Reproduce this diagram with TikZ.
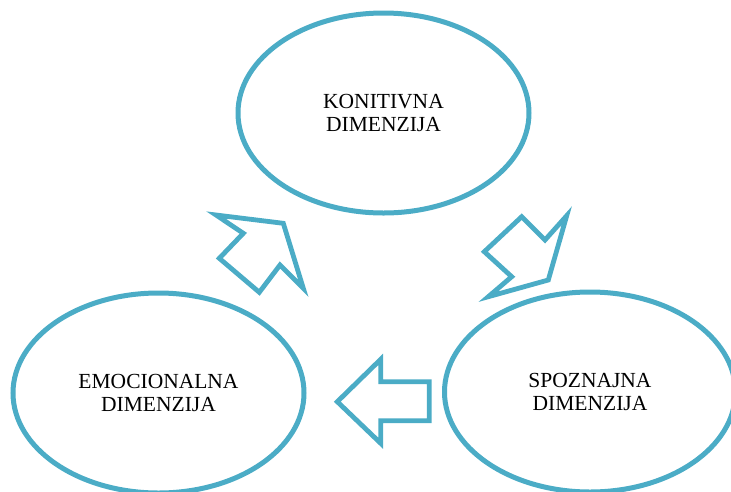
\documentclass[tikz,border=0pt]{standalone}
\usepackage{fontspec}
\setmainfont{Liberation Serif}
\usetikzlibrary{shapes.geometric}
\definecolor{accent}{RGB}{75,172,198}
\begin{document}
\begin{tikzpicture}[x=1pt,y=-1pt,
  dim/.style={ellipse, draw=accent, line width=5pt, fill=white,
    minimum width=291pt, minimum height=200pt, inner sep=0pt,
    align=center, text=black, font=\fontsize{21.5}{23}\selectfont},
  blockarrow/.style={draw=accent, line width=4.8pt, fill=white, line join=miter, miter limit=10}]
\useasboundingbox (0,0) rectangle (731,491);
\node[dim] (kon) at (383.5,113) {KONITIVNA\\DIMENZIJA};
\node[dim] (emo) at (158.5,393) {EMOCIONALNA\\DIMENZIJA};
\node[dim] (spo) at (590,392) {SPOZNAJNA\\DIMENZIJA};
% arrow from emotional to cognitive
\draw[blockarrow] (216,215) -- (283.3,223.3) -- (303.3,288.3) -- (280,265)
  -- (259.3,292.3) -- (219.3,258.3) -- (243.3,233.3) -- cycle;
% arrow from cognitive to cognition
\draw[blockarrow] (566.7,215.7) -- (548.3,280) -- (488.3,296.7) -- (511.7,276.7)
  -- (484.3,251.7) -- (521.7,216.7) -- (545,240) -- cycle;
% arrow from cognition to emotional
\draw[blockarrow] (337.3,401.7) -- (380.7,359.3) -- (380.7,381.7) -- (429.3,381.7)
  -- (429.3,420.7) -- (380.7,420.7) -- (380.7,443.3) -- cycle;
\end{tikzpicture}
\end{document}
